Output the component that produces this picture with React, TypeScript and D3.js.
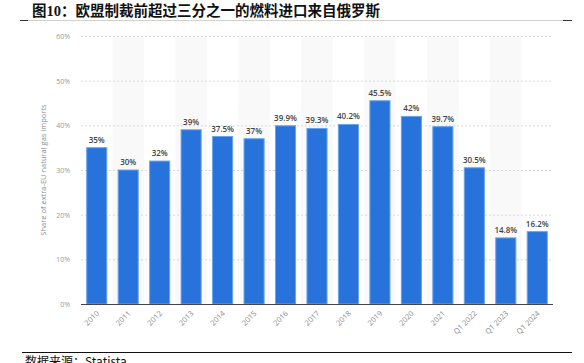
import React from "react";
import * as d3 from "d3";

const categories = ["2010", "2011", "2012", "2013", "2014", "2015", "2016", "2017", "2018", "2019", "2020", "2021", "Q1 2022", "Q1 2023", "Q1 2024"];
const values = [35, 30, 32, 39, 37.5, 37, 39.9, 39.3, 40.2, 45.5, 42, 39.7, 30.5, 14.8, 16.2];
const valueLabels = ["35%", "30%", "32%", "39%", "37.5%", "37%", "39.9%", "39.3%", "40.2%", "45.5%", "42%", "39.7%", "30.5%", "14.8%", "16.2%"];
const yTicks = [0, 10, 20, 30, 40, 50, 60];
const title = "图10：欧盟制裁前超过三分之一的燃料进口来自俄罗斯";
const yTitle = "Share of extra-EU natural gas imports";
const source = "数据来源：Statista";

const W = 584;
const H = 363;
const plot = { left: 81, right: 553, top: 36, bottom: 304 };

export default function App() {
  const x = d3.scaleBand<string>().domain(categories).range([plot.left, plot.right]).paddingInner(0.33).paddingOuter(0.165);
  const xBand = d3.scaleBand<string>().domain(categories).range([plot.left, plot.right]).padding(0);
  const y = d3.scaleLinear().domain([0, 60]).range([plot.bottom, plot.top]);
  const sans = "'Open Sans', 'Noto Sans', sans-serif";

  return (
    <svg width={W} height={H} style={{ position: "absolute", left: 0, top: 0, background: "#fff" }}>
      <text x={32} y={16} fontFamily={"'Liberation Serif', 'Noto Sans CJK SC', serif"} fontWeight="bold" fontSize={14.5} fill="#111">
        {title}
      </text>
      <line x1={22} x2={563} y1={20.5} y2={20.5} stroke="#d0d0d0" strokeWidth={1} />
      <line x1={20} x2={28} y1={20.5} y2={20.5} stroke="#333" strokeWidth={1} />
      <line x1={563} x2={572} y1={20.5} y2={20.5} stroke="#333" strokeWidth={1} />

      {categories.map((c, i) =>
        i % 2 === 1 ? (
          <rect key={"bg" + c} x={xBand(c)} y={plot.top} width={xBand.bandwidth()} height={plot.bottom - plot.top} fill="#f9f9f9" />
        ) : null
      )}

      {yTicks.map((t) => (
        <g key={"yt" + t}>
          {t > 0 && (
            <line x1={plot.left} x2={plot.right} y1={y(t) + 0.5} y2={y(t) + 0.5} stroke="#d8d8d8" strokeWidth={1} strokeDasharray="2,2" />
          )}
          <text x={70} y={y(t) + 3} textAnchor="end" fontFamily={sans} fontSize={7} fill="#9a9a9a">
            {t + "%"}
          </text>
        </g>
      ))}

      <text
        transform={`translate(46, 170) rotate(-90)`}
        textAnchor="middle"
        fontFamily={sans}
        fontSize={7.5}
        fill="#8a8a8a"
      >
        {yTitle}
      </text>

      {categories.map((c, i) => (
        <g key={"bar" + c}>
          <rect
            x={(x(c) as number) + 0.5}
            y={y(values[i])}
            width={x.bandwidth() - 1}
            height={y(0) - y(values[i])}
            fill="#2873db"
            stroke="#6aa3ea"
            strokeWidth={1}
          />
          <text
            x={(x(c) as number) + x.bandwidth() / 2}
            y={y(values[i]) - 5}
            textAnchor="middle"
            fontFamily={sans}
            fontSize={8}
            fontWeight="600"
            fill="#444"
          >
            {valueLabels[i]}
          </text>
          <text
            transform={`translate(${(x(c) as number) + x.bandwidth() / 2 + 3}, ${plot.bottom + 10}) rotate(-45)`}
            textAnchor="end"
            fontFamily={sans}
            fontSize={7.5}
            fill="#8a8a8a"
          >
            {c}
          </text>
        </g>
      ))}

      <line x1={plot.left} x2={plot.right} y1={plot.bottom + 0.5} y2={plot.bottom + 0.5} stroke="#444" strokeWidth={1} />

      <line x1={22} x2={572} y1={352.5} y2={352.5} stroke="#111" strokeWidth={1} />
      <text x={25} y={366} fontFamily={"'Noto Sans CJK SC', serif"} fontSize={12} fill="#111">
        {source}
      </text>
    </svg>
  );
}
